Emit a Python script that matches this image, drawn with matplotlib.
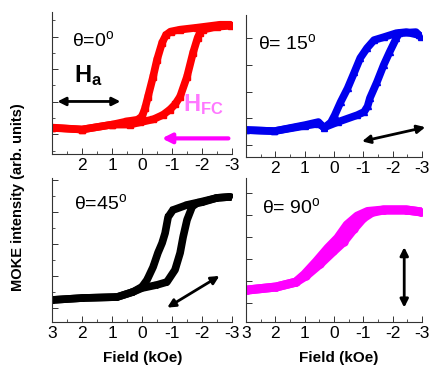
import numpy as np
import matplotlib
matplotlib.use("Agg")
import matplotlib.pyplot as plt
from matplotlib.ticker import MultipleLocator

plt.rcParams['font.family'] = ['Liberation Sans', 'DejaVu Sans']
plt.rcParams['mathtext.default'] = 'regular'

# ---- data (field in kOe, intensity in arb. units) ----
# theta = 0
h0_a = [3.0, 2.0, 1.0, 0.5, 0.15, 0.0, -0.1, -0.2, -0.37, -0.5, -0.67, -0.8, -0.95, -1.27, -1.83, -2.6, -2.95]
m0_a = [0.21, 0.15, 0.3, 0.4, 0.45, 0.55, 0.8, 1.16, 1.77, 2.29, 2.81, 3.05, 3.15, 3.21, 3.27, 3.36, 3.36]
h0_b = [3.0, 2.0, 1.0, 0.4, 0.07, -0.37, -0.7, -0.93, -1.1, -1.27, -1.5, -1.7, -1.85, -1.93, -2.03, -2.5, -2.95]
m0_b = [0.2, 0.15, 0.3, 0.3, 0.37, 0.46, 0.6, 0.76, 0.92, 1.16, 1.77, 2.5, 2.95, 3.12, 3.21, 3.3, 3.33]

# theta = 15
h15_a = [3.0, 2.03, 0.97, 0.53, 0.33, 0.1, -0.03, -0.23, -0.47, -0.7, -0.9, -1.13, -1.37, -1.7, -2.13, -2.47, -2.9]
m15_a = [0.56, 0.52, 0.75, 0.86, 0.64, 0.85, 1.12, 1.61, 2.13, 2.73, 3.26, 3.63, 3.93, 4.04, 4.19, 4.23, 4.12]
h15_b = [3.0, 2.03, 0.97, 0.53, 0.33, -0.13, -0.8, -1.03, -1.15, -1.23, -1.47, -1.7, -1.9, -2.13, -2.23, -2.8, -2.97]
m15_b = [0.56, 0.52, 0.72, 0.8, 0.66, 0.86, 1.12, 1.24, 1.45, 1.76, 2.36, 3.0, 3.48, 4.0, 4.19, 4.23, 4.04]

# theta = 45
h45_a = [2.97, 1.97, 0.83, 0.3, 0.0, -0.17, -0.37, -0.53, -0.67, -0.77, -0.87, -1.03, -1.5, -1.93, -2.5, -2.93]
m45_a = [0.25, 0.31, 0.34, 0.5, 0.66, 0.88, 1.28, 1.72, 2.03, 2.34, 2.84, 3.06, 3.22, 3.31, 3.44, 3.47]
h45_b = [2.97, 1.97, 0.83, 0.3, 0.0, -0.5, -0.83, -1.1, -1.27, -1.37, -1.5, -1.67, -1.8, -2.03, -2.5, -2.93]
m45_b = [0.25, 0.31, 0.34, 0.5, 0.62, 0.72, 0.81, 1.19, 1.72, 2.22, 2.75, 3.16, 3.26, 3.31, 3.44, 3.47]

# theta = 90
h90_a = [2.97, 1.97, 1.3, 1.0, 0.6, 0.2, -0.13, -0.45, -0.8, -1.15, -1.7, -2.47, -2.97]
m90_a = [0.59, 0.73, 0.95, 1.3, 1.88, 2.5, 2.95, 3.55, 3.95, 4.16, 4.23, 4.23, 4.14]
h90_b = [2.97, 1.97, 1.3, 0.95, 0.47, 0.02, -0.33, -0.68, -1.0, -1.3, -1.7, -2.47, -2.97]
m90_b = [0.59, 0.73, 0.95, 1.24, 1.78, 2.35, 2.78, 3.37, 3.86, 4.12, 4.23, 4.23, 4.14]

xticks = [3, 2, 1, 0, -1, -2, -3]
top_labels = ['', '2', '1', '0', '-1', '-2', '-3']
bottom_labels = ['3', '2', '1', '0', '-1', '-2', '-3']

fig = plt.figure(figsize=(4.32, 3.71), dpi=100)
ax1 = fig.add_axes([0.1204, 0.5849, 0.4167, 0.3827])
ax2 = fig.add_axes([0.5694, 0.5768, 0.407, 0.3827])
ax3 = fig.add_axes([0.1204, 0.1321, 0.4167, 0.388])
ax4 = fig.add_axes([0.5694, 0.1321, 0.407, 0.388])


def style(ax, ylim, ystep, labels, yminor=True):
    ax.set_xlim(3, -3)
    ax.set_ylim(*ylim)
    for s in ['top', 'right']:
        ax.spines[s].set_visible(False)
    for s in ['left', 'bottom']:
        ax.spines[s].set_color('#333333')
        ax.spines[s].set_linewidth(0.8)
    ax.set_xticks(xticks)
    ax.set_xticklabels(labels, fontsize=12.5)
    ax.xaxis.set_minor_locator(MultipleLocator(0.5))
    ax.yaxis.set_major_locator(MultipleLocator(ystep))
    if yminor:
        ax.yaxis.set_minor_locator(MultipleLocator(ystep / 2))
    ax.set_yticklabels([])
    ax.tick_params(which='major', direction='in', length=4, width=0.7, color='#333333', pad=3)
    ax.tick_params(which='minor', direction='in', length=2, width=0.6, color='#333333')


def loop(ax, ha, ma, hb, mb, color, marker, lw=5.5):
    for h, m in [(ha, ma), (hb, mb)]:
        ax.plot(h, m, color=color, lw=lw, solid_capstyle='round', solid_joinstyle='round')
        ax.plot(h, m, color=color, lw=0, marker=marker, ms=5)


loop(ax1, h0_a, m0_a, h0_b, m0_b, '#ff0000', 's')
style(ax1, (-0.6, 3.75), 1, top_labels)

loop(ax2, h15_a, m15_a, h15_b, m15_b, '#0000ee', '^')
style(ax2, (-0.45, 4.87), 1, top_labels, yminor=False)

loop(ax3, h45_a, m45_a, h45_b, m45_b, '#000000', 'v')
style(ax3, (-0.44, 4.06), 1, bottom_labels)

loop(ax4, h90_a, m90_a, h90_b, m90_b, '#ff00ff', 'o', lw=6.5)
style(ax4, (-0.86, 5.68), 1, bottom_labels, yminor=False)

# angle labels
ax1.text(0.11, 0.8, 'θ=0$^{o}$', transform=ax1.transAxes, fontsize=14, va='center')
ax2.text(0.07, 0.8, 'θ= 15$^{o}$', transform=ax2.transAxes, fontsize=14, va='center')
ax3.text(0.12, 0.83, 'θ=45$^{o}$', transform=ax3.transAxes, fontsize=14, va='center')
ax4.text(0.09, 0.8, 'θ= 90$^{o}$', transform=ax4.transAxes, fontsize=14, va='center')

# field direction arrows
arr = dict(arrowstyle='<|-|>', color='black', lw=2, mutation_scale=12, shrinkA=0, shrinkB=0)
ax1.text(0.12, 0.55, 'H$_{a}$', transform=ax1.transAxes, fontsize=17, fontweight='bold', va='center')
ax1.annotate('', xy=(0.03, 0.37), xytext=(0.38, 0.37), xycoords='axes fraction', arrowprops=arr)
ax1.text(0.73, 0.35, 'H$_{FC}$', transform=ax1.transAxes, fontsize=17, fontweight='bold',
         color='#ff77ff', va='center')
ax1.annotate('', xy=(0.61, 0.11), xytext=(0.98, 0.11), xycoords='axes fraction',
             arrowprops=dict(arrowstyle='-|>', color='#ff00ff', lw=3, mutation_scale=14,
                             shrinkA=0, shrinkB=0))
ax2.annotate('', xy=(0.66, 0.11), xytext=(1.02, 0.21), xycoords='axes fraction', arrowprops=arr,
             annotation_clip=False)
ax3.annotate('', xy=(0.64, 0.1), xytext=(0.93, 0.32), xycoords='axes fraction', arrowprops=arr)
ax4.annotate('', xy=(0.9, 0.1), xytext=(0.9, 0.52), xycoords='axes fraction', arrowprops=arr)

fig.text(0.042, 0.47, 'MOKE intensity (arb. units)', rotation=90, fontsize=10.5,
         fontweight='bold', ha='center', va='center')
fig.text(0.33, 0.035, 'Field (kOe)', fontsize=11, fontweight='bold', ha='center', va='center')
fig.text(0.785, 0.035, 'Field (kOe)', fontsize=11, fontweight='bold', ha='center', va='center')

fig.savefig('out.png', dpi=100)
